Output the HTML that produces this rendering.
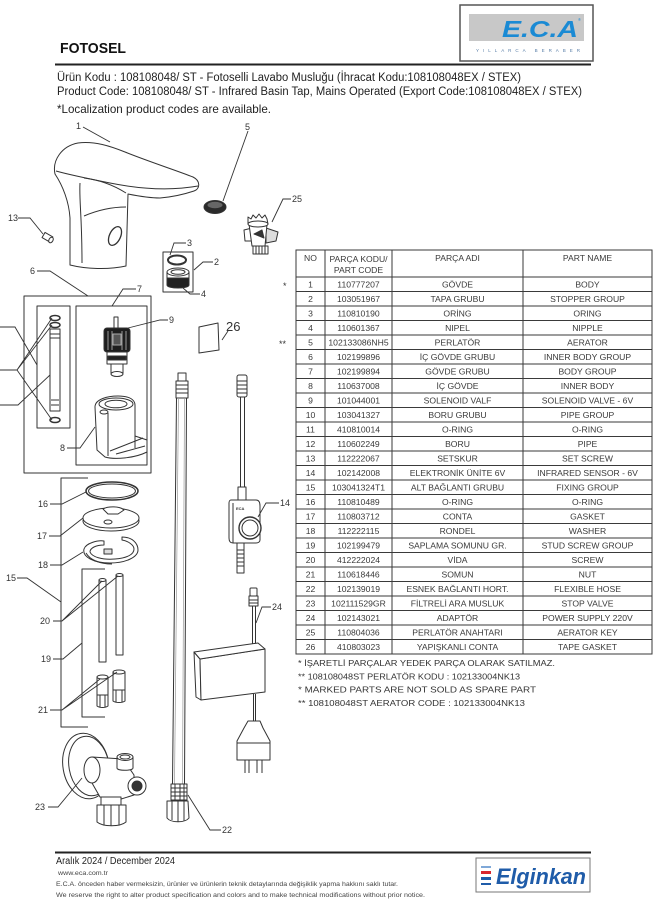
<!DOCTYPE html>
<html><head><meta charset="utf-8"><style>html,body{margin:0;padding:0;background:#fff}svg{display:block}</style></head>
<body>
<svg width="655" height="900" viewBox="0 0 655 900" xmlns="http://www.w3.org/2000/svg" font-family="'Liberation Sans', Arial, sans-serif">
<rect width="655" height="900" fill="#fff"/>

<!-- HEADER -->
<text x="60" y="53" font-size="15" font-weight="bold" fill="#111" textLength="66" lengthAdjust="spacingAndGlyphs">FOTOSEL</text>
<line x1="55" y1="64.5" x2="591" y2="64.5" stroke="#222" stroke-width="2"/>
<text x="57" y="81" font-size="11.5" fill="#222" textLength="464" lengthAdjust="spacingAndGlyphs">Ürün Kodu : 108108048/ ST - Fotoselli Lavabo Musluğu (İhracat Kodu:108108048EX / STEX)</text>
<text x="57" y="95" font-size="11.5" fill="#222" textLength="525" lengthAdjust="spacingAndGlyphs">Product Code: 108108048/ ST - Infrared Basin Tap, Mains Operated (Export Code:108108048EX / STEX)</text>
<text x="57" y="113" font-size="12" fill="#222" textLength="214" lengthAdjust="spacingAndGlyphs">*Localization product codes are available.</text>

<!-- ECA LOGO -->
<rect x="460" y="5" width="133" height="56" fill="#fff" stroke="#555" stroke-width="1.5"/>
<rect x="469" y="14" width="115" height="27" fill="#c8c8c8"/>
<text x="502" y="37" font-size="23" font-weight="bold" font-style="italic" fill="#1a8ad4" textLength="76" lengthAdjust="spacingAndGlyphs">E.C.A</text>
<text x="578" y="21" font-size="4" fill="#1a8ad4">®</text>
<text x="476" y="52" font-size="4.5" fill="#5a7fa8" textLength="104" lengthAdjust="spacing">YILLARCA BERABER</text>

<!-- DRAWING -->
<g stroke="#333" stroke-width="1" fill="#fff" stroke-linejoin="round">
  <!-- faucet body 1 -->
  <path d="M55,174 C52,160 62,146 78,143 C95,141 110,146 125,152 C150,162 178,171 193,177 C201,181 200,189 194,191 C185,194 172,197 160,198 C150,198 138,196 128,194 L126,266 C108,270 86,269 70,265 L70,218 C69,202 63,186 55,174 Z"/>
  <path d="M56,171 C70,175 90,179 110,183 C140,189 170,191 198,186" fill="none"/>
  <path d="M80,183 C79,200 82,215 82,263" fill="none"/>
  <path d="M84,178 C100,180 115,186 126,193" fill="none"/>
  <path d="M84,216 C98,210 112,207 126,207" fill="none"/>
  <ellipse cx="115" cy="236" rx="5.5" ry="10" transform="rotate(25 115 236)" fill="#fff" stroke-width="1.3"/>

  <!-- aerator 5 -->
  <ellipse cx="215" cy="207" rx="11" ry="6.5" fill="#2a2a2a"/>
  <ellipse cx="215" cy="205" rx="7.5" ry="3.2" fill="#666" stroke="none"/>

  <!-- aerator key 25 -->
  <path d="M244,230 L252,228 L252,241 L245,241 Z"/>
  <path d="M266,228 L278,232 L276,241 L266,243 Z" fill="#ddd"/>
  <path d="M249,224 L267,224 L265,246 L252,246 Z"/>
  <path d="M248,224 L248,217 L251,219 L253,215 L256,218 L259,214 L262,218 L265,215 L267,219 L268,224 Z"/>
  <ellipse cx="258" cy="224" rx="10" ry="3"/>
  <path d="M253,246 L268,246 L268,254 L253,254 Z"/>
  <path d="M256,246 V254 M259,246 V254 M262,246 V254 M265,246 V254" fill="none"/>
  <path d="M254,234 L262,230 L264,238 Z" fill="#333"/>

  <!-- part 13 -->
  <rect x="43" y="234" width="9" height="6" transform="rotate(30 47 237)"/>
  <ellipse cx="51" cy="240" rx="2" ry="3" transform="rotate(30 51 240)"/>

  <!-- box 2 with 3,4 -->
  <rect x="163" y="252" width="30" height="40" fill="none"/>
  <ellipse cx="177" cy="260" rx="9" ry="4.5" fill="none" stroke-width="2"/>
  <path d="M167,272 L167,284 C167,288 189,288 189,284 L189,272" fill="#fff"/>
  <path d="M167,278 L189,278 L189,285 C189,289 167,289 167,285 Z" fill="#222"/>
  <ellipse cx="178" cy="272" rx="11" ry="4"/>
  <ellipse cx="178" cy="272" rx="7" ry="2.3" fill="none"/>

  <!-- box 6 / 7 -->
  <rect x="24" y="296" width="127" height="177" fill="none"/>
  <rect x="37" y="306" width="33" height="122" fill="none"/>
  <rect x="76" y="306" width="71" height="159" fill="none"/>

  <!-- pipe 10/11/12 -->
  <ellipse cx="55" cy="318" rx="5" ry="2.5" fill="none" stroke-width="1.5"/>
  <ellipse cx="55" cy="325" rx="5" ry="2.5" fill="none" stroke-width="1.5"/>
  <rect x="50" y="329" width="10" height="82"/>
  <path d="M50,334 H60 M50,338 H60 M51,400 H59 M51,405 H59" fill="none"/>
  <ellipse cx="55" cy="420" rx="5" ry="2.5" fill="none" stroke-width="1.5"/>

  <!-- solenoid 9 -->
  <rect x="114" y="317" width="4" height="11"/>
  <rect x="104" y="328" width="26" height="24" rx="3" fill="#1e1e1e"/>
  <path d="M108,331 V350 M112,331 V350 M122,331 V350 M126,331 V350" stroke="#999" fill="none"/>
  <rect x="113" y="334" width="8" height="11" fill="#555" stroke="#aaa"/>
  <rect x="107" y="352" width="20" height="12"/>
  <rect x="108" y="356" width="18" height="4" fill="#222"/>
  <rect x="111" y="364" width="12" height="9"/>
  <ellipse cx="117" cy="374" rx="6" ry="2.5"/>

  <!-- inner body 8 -->
  <path d="M95,407 C95,399 108,396 118,396 C130,396 135,400 135,405 L135,436 L147,440 L147,452 C135,458 115,460 105,457 L97,450 Z"/>
  <ellipse cx="116" cy="404" rx="17" ry="6"/>
  <ellipse cx="116" cy="404" rx="11" ry="3.8"/>
  <ellipse cx="104" cy="412" rx="4" ry="2"/>
  <path d="M108,413 L108,456 M110,451 L143,438 M116,454 L145,446 M135,436 L135,448" fill="none"/>

  <!-- tape gasket 26 -->
  <path d="M199,327 L218,323 L219,350 L199,353 Z"/>

  <!-- hose 22 -->
  <rect x="178" y="373" width="8" height="8"/>
  <rect x="176" y="381" width="12" height="17"/>
  <path d="M176,385 H188 M176,389 H188 M176,393 H188" fill="none"/>
  <path d="M176.5,398 L172.5,784 M186.5,398 L184.5,784" fill="none"/>
  <path d="M178.5,398 L174.5,784 M184.5,398 L182.5,784" fill="none" stroke="#999" stroke-width="0.7"/>
  <rect x="171" y="784" width="16" height="16"/>
  <path d="M171,788 H187 M171,792 H187 M171,796 H187 M175,784 V800 M180,784 V800 M184,784 V800" fill="none"/>
  <path d="M167,801 L188,801 L189,818 C185,823 171,823 167,818 Z"/>
  <path d="M172,801 V820 M178,801 V822 M184,801 V821" fill="none"/>

  <!-- sensor 14 -->
  <rect x="237" y="375" width="10" height="22" rx="2"/>
  <path d="M237,381 H247 M237,385 H247 M237,389 H247 M237,393 H247" fill="none"/>
  <path d="M240.5,397 V487 M244.5,397 V487" fill="none"/>
  <rect x="238" y="487" width="8" height="13"/>
  <path d="M231,500 L256,500 C259,500 260,503 260,506 L260,540 C260,542 258,543 256,543 L233,543 C230,543 229,541 229,538 L229,503 C229,501 230,500 231,500 Z"/>
  <path d="M233,503 L233,543" fill="none"/>
  <circle cx="250" cy="528" r="11" stroke-width="1.4"/>
  <circle cx="250" cy="528" r="8" fill="none"/>
  <text x="236" y="510" font-size="4" fill="#333" stroke="none" font-weight="bold">ECA</text>
  <rect x="237" y="543" width="7" height="30"/>
  <path d="M237,550 H244 M237,554 H244 M237,558 H244 M237,562 H244 M237,566 H244" fill="none"/>

  <!-- power supply 24 -->
  <rect x="250" y="588" width="7" height="8" rx="1"/>
  <rect x="249" y="596" width="9" height="10"/>
  <path d="M249,600 H258 M249,603 H258" fill="none"/>
  <path d="M252.5,606 V646 M255.5,606 V646" fill="none"/>
  <ellipse cx="254" cy="647" rx="4" ry="2"/>
  <path d="M194,652 L200,659 L201,700 L196,697 Z"/>
  <path d="M200,659 L265,649 L265,692 L201,700 Z"/>
  <path d="M194,652 L258,643 L265,649 L200,659 Z"/>
  <path d="M253.5,694 V722 M255.5,694 V722" fill="none"/>
  <path d="M248,721 L260,721 L263,728 L270,741 L270,760 L237,760 L237,741 L244,728 Z"/>
  <path d="M237,743 H270" fill="none"/>
  <path d="M245,760 V773 M249,760 V773 M257,760 V773 M262,760 V773" fill="none"/>

  <!-- bracket 15 -->
  <path d="M88,478 L61,478 L61,727 L88,727" fill="none"/>
  <!-- o-ring 16 -->
  <ellipse cx="112" cy="491" rx="26" ry="9" fill="none" stroke-width="1.5"/>
  <ellipse cx="112" cy="491" rx="23.5" ry="7" fill="none"/>
  <!-- gasket 17 -->
  <ellipse cx="111" cy="521" rx="28" ry="10"/>
  <ellipse cx="111" cy="518" rx="28" ry="10"/>
  <path d="M103,509 C108,506 120,506 124,510 L118,514 L108,514 Z"/>
  <ellipse cx="108" cy="522" rx="4" ry="2"/>
  <!-- washer 18 -->
  <path d="M84,549 C86,543 98,540 104,541 L104,545 C96,545 90,548 90,552 C92,557 102,560 115,559 C128,558 134,554 134,549 C134,545 128,541 122,540 L122,537 C132,537 138,543 138,550 C138,557 126,563 110,563 C94,563 82,557 84,549 Z"/>
  <path d="M86,553 C90,560 100,564 112,564" fill="none"/>
  <rect x="104" y="549" width="8" height="5" fill="#ddd"/>
  <!-- bracket 19 -->
  <path d="M105,569 L82,569 L82,717 L105,717" fill="none"/>
  <!-- studs 20 -->
  <rect x="99" y="580" width="7" height="82"/>
  <ellipse cx="102.5" cy="580" rx="3.5" ry="1.5"/>
  <rect x="116" y="575" width="7" height="80"/>
  <ellipse cx="119.5" cy="575" rx="3.5" ry="1.5"/>
  <!-- nuts 21 -->
  <rect x="97" y="677" width="11" height="18"/>
  <ellipse cx="102.5" cy="677" rx="5.5" ry="2"/>
  <path d="M97,695 L108,695 L108,706 C105,708 100,708 97,706 Z"/>
  <path d="M100,695 V707 M105,695 V707" fill="none"/>
  <rect x="113" y="672" width="12" height="18"/>
  <ellipse cx="119" cy="672" rx="6" ry="2"/>
  <path d="M113,690 L125,690 L125,701 C122,703 116,703 113,701 Z"/>
  <path d="M116,690 V702 M122,690 V702" fill="none"/>

  <!-- stop valve 23 -->
  <ellipse cx="86" cy="766" rx="23" ry="33" transform="rotate(-10 86 766)"/>
  <ellipse cx="89" cy="766" rx="20" ry="30" transform="rotate(-10 89 766)" fill="none"/>
  <path d="M92,757 L123,759 L134,775 L134,795 L118,800 L100,797 L92,783 Z"/>
  <ellipse cx="92" cy="770" rx="8" ry="13"/>
  <path d="M117,757 L117,768 C117,771 133,771 133,768 L133,757" />
  <ellipse cx="125" cy="757" rx="8" ry="3.5"/>
  <ellipse cx="125" cy="757" rx="5" ry="2" fill="none"/>
  <circle cx="137" cy="786" r="9"/>
  <circle cx="137" cy="786" r="5" fill="#333"/>
  <rect x="101" y="797" width="20" height="8"/>
  <path d="M97,805 L126,805 L126,822 C120,827 103,827 97,822 Z"/>
  <path d="M104,805 V825 M111,805 V826 M119,805 V825" fill="none"/>
</g>

<!-- leaders -->
<g stroke="#333" stroke-width="0.9" fill="none">
  <path d="M83,127 L110,142"/>
  <path d="M248,131 L223,201"/>
  <path d="M291,199 L283,199 L272,222"/>
  <path d="M18,218 L30,218 L43,234"/>
  <path d="M186,243 L174,243 L170,255"/>
  <path d="M213,262 L203,262 L194,270"/>
  <path d="M200,294 L190,294 L183,288"/>
  <path d="M37,271 L50,271 L88,296"/>
  <path d="M136,289 L123,289 L112,306"/>
  <path d="M168,320 L160,320 L128,328"/>
  <path d="M67,448 L80,448 L95,427"/>
  <path d="M0,327 L15,327 L37,365"/>
  <path d="M0,370 L17,370 L52,318 M17,370 L52,325 M17,370 L52,420"/>
  <path d="M0,405 L18,405 L50,375"/>
  <path d="M228,331 L222,340"/>
  <path d="M279,503 L266,503 L258,517"/>
  <path d="M271,607 L262,607 L256,623"/>
  <path d="M17,578 L27,578 L61,602"/>
  <path d="M50,504 L62,504 L86,492"/>
  <path d="M49,536 L60,536 L83,518"/>
  <path d="M50,565 L62,565 L83,552"/>
  <path d="M53,621 L62,621 L102,581 M62,621 L118,576"/>
  <path d="M53,659 L63,659 L82,643"/>
  <path d="M50,710 L62,710 L100,679 M62,710 L117,672"/>
  <path d="M48,807 L58,807 L82,778"/>
  <path d="M221,830 L210,830 L188,795"/>
</g>

<!-- labels -->
<g font-size="9" fill="#333">
  <text x="76" y="129">1</text>
  <text x="245" y="130">5</text>
  <text x="292" y="202">25</text>
  <text x="8" y="221">13</text>
  <text x="187" y="246">3</text>
  <text x="214" y="265">2</text>
  <text x="201" y="297">4</text>
  <text x="30" y="274">6</text>
  <text x="137" y="292">7</text>
  <text x="169" y="323">9</text>
  <text x="60" y="451">8</text>
  <text x="280" y="506">14</text>
  <text x="272" y="610">24</text>
  <text x="6" y="581">15</text>
  <text x="38" y="507">16</text>
  <text x="37" y="539">17</text>
  <text x="38" y="568">18</text>
  <text x="40" y="624">20</text>
  <text x="41" y="662">19</text>
  <text x="38" y="713">21</text>
  <text x="35" y="810">23</text>
  <text x="222" y="833">22</text>
</g>
<text x="226" y="331" font-size="13" fill="#333">26</text>
<text x="283" y="289" font-size="9" fill="#333">*</text>
<text x="279" y="347" font-size="9" fill="#333">**</text>

<!-- TABLE -->
<g stroke="#3a3a3a" stroke-width="1" fill="none">
  <rect x="296" y="250" width="356" height="404"/>
  <path d="M325,250V654 M392,250V654 M523,250V654"/>
  <path d="M296,277H652 M296,291.5H652 M296,306H652 M296,320.5H652 M296,335H652 M296,349.5H652 M296,364H652 M296,378.5H652 M296,393H652 M296,407.5H652 M296,422H652 M296,436.5H652 M296,451H652 M296,465.5H652 M296,480H652 M296,494.5H652 M296,509H652 M296,523.5H652 M296,538H652 M296,552.5H652 M296,567H652 M296,581.5H652 M296,596H652 M296,610.5H652 M296,625H652 M296,639.5H652"/>
</g>
<g font-size="8.6" fill="#3a3a3a" text-anchor="middle">
  <text x="310.5" y="261">NO</text>
  <text x="358.5" y="262">PARÇA KODU/</text>
  <text x="358.5" y="273">PART CODE</text>
  <text x="457.5" y="261">PARÇA ADI</text>
  <text x="587.5" y="261">PART NAME</text>
</g>
<g font-size="8.6" fill="#3a3a3a" text-anchor="middle">
  <g transform="translate(0,287.3)"><text x="310.5">1</text><text x="358.5">110777207</text><text x="457.5">GÖVDE</text><text x="587.5">BODY</text></g>
  <g transform="translate(0,301.8)"><text x="310.5">2</text><text x="358.5">103051967</text><text x="457.5">TAPA GRUBU</text><text x="587.5">STOPPER GROUP</text></g>
  <g transform="translate(0,316.3)"><text x="310.5">3</text><text x="358.5">110810190</text><text x="457.5">ORİNG</text><text x="587.5">ORING</text></g>
  <g transform="translate(0,330.8)"><text x="310.5">4</text><text x="358.5">110601367</text><text x="457.5">NIPEL</text><text x="587.5">NIPPLE</text></g>
  <g transform="translate(0,345.3)"><text x="310.5">5</text><text x="358.5">102133086NH5</text><text x="457.5">PERLATÖR</text><text x="587.5">AERATOR</text></g>
  <g transform="translate(0,359.8)"><text x="310.5">6</text><text x="358.5">102199896</text><text x="457.5">İÇ GÖVDE GRUBU</text><text x="587.5">INNER BODY GROUP</text></g>
  <g transform="translate(0,374.3)"><text x="310.5">7</text><text x="358.5">102199894</text><text x="457.5">GÖVDE GRUBU</text><text x="587.5">BODY GROUP</text></g>
  <g transform="translate(0,388.8)"><text x="310.5">8</text><text x="358.5">110637008</text><text x="457.5">İÇ GÖVDE</text><text x="587.5">INNER BODY</text></g>
  <g transform="translate(0,403.3)"><text x="310.5">9</text><text x="358.5">101044001</text><text x="457.5">SOLENOID VALF</text><text x="587.5">SOLENOID VALVE - 6V</text></g>
  <g transform="translate(0,417.8)"><text x="310.5">10</text><text x="358.5">103041327</text><text x="457.5">BORU GRUBU</text><text x="587.5">PIPE GROUP</text></g>
  <g transform="translate(0,432.3)"><text x="310.5">11</text><text x="358.5">410810014</text><text x="457.5">O-RING</text><text x="587.5">O-RING</text></g>
  <g transform="translate(0,446.8)"><text x="310.5">12</text><text x="358.5">110602249</text><text x="457.5">BORU</text><text x="587.5">PIPE</text></g>
  <g transform="translate(0,461.3)"><text x="310.5">13</text><text x="358.5">112222067</text><text x="457.5">SETSKUR</text><text x="587.5">SET SCREW</text></g>
  <g transform="translate(0,475.8)"><text x="310.5">14</text><text x="358.5">102142008</text><text x="457.5">ELEKTRONİK ÜNİTE 6V</text><text x="587.5">INFRARED SENSOR - 6V</text></g>
  <g transform="translate(0,490.3)"><text x="310.5">15</text><text x="358.5">103041324T1</text><text x="457.5">ALT BAĞLANTI GRUBU</text><text x="587.5">FIXING GROUP</text></g>
  <g transform="translate(0,504.8)"><text x="310.5">16</text><text x="358.5">110810489</text><text x="457.5">O-RING</text><text x="587.5">O-RING</text></g>
  <g transform="translate(0,519.3)"><text x="310.5">17</text><text x="358.5">110803712</text><text x="457.5">CONTA</text><text x="587.5">GASKET</text></g>
  <g transform="translate(0,533.8)"><text x="310.5">18</text><text x="358.5">112222115</text><text x="457.5">RONDEL</text><text x="587.5">WASHER</text></g>
  <g transform="translate(0,548.3)"><text x="310.5">19</text><text x="358.5">102199479</text><text x="457.5">SAPLAMA SOMUNU GR.</text><text x="587.5">STUD SCREW GROUP</text></g>
  <g transform="translate(0,562.8)"><text x="310.5">20</text><text x="358.5">412222024</text><text x="457.5">VİDA</text><text x="587.5">SCREW</text></g>
  <g transform="translate(0,577.3)"><text x="310.5">21</text><text x="358.5">110618446</text><text x="457.5">SOMUN</text><text x="587.5">NUT</text></g>
  <g transform="translate(0,591.8)"><text x="310.5">22</text><text x="358.5">102139019</text><text x="457.5">ESNEK BAĞLANTI HORT.</text><text x="587.5">FLEXIBLE HOSE</text></g>
  <g transform="translate(0,606.3)"><text x="310.5">23</text><text x="358.5">102111529GR</text><text x="457.5">FİLTRELİ ARA MUSLUK</text><text x="587.5">STOP VALVE</text></g>
  <g transform="translate(0,620.8)"><text x="310.5">24</text><text x="358.5">102143021</text><text x="457.5">ADAPTÖR</text><text x="587.5">POWER SUPPLY 220V</text></g>
  <g transform="translate(0,635.3)"><text x="310.5">25</text><text x="358.5">110804036</text><text x="457.5">PERLATÖR ANAHTARI</text><text x="587.5">AERATOR KEY</text></g>
  <g transform="translate(0,649.8)"><text x="310.5">26</text><text x="358.5">410803023</text><text x="457.5">YAPIŞKANLI CONTA</text><text x="587.5">TAPE GASKET</text></g>
</g>

<!-- notes -->
<g font-size="8.5" fill="#333">
  <text x="298" y="666" textLength="257" lengthAdjust="spacingAndGlyphs">* İŞARETLİ PARÇALAR YEDEK PARÇA OLARAK SATILMAZ.</text>
  <text x="298" y="679.5" textLength="222" lengthAdjust="spacingAndGlyphs">** 108108048ST PERLATÖR KODU : 102133004NK13</text>
  <text x="298" y="692.5" textLength="238" lengthAdjust="spacingAndGlyphs">* MARKED PARTS ARE NOT SOLD AS SPARE PART</text>
  <text x="298" y="706" textLength="227" lengthAdjust="spacingAndGlyphs">** 108108048ST AERATOR CODE : 102133004NK13</text>
</g>

<!-- FOOTER -->
<line x1="55" y1="852.5" x2="591" y2="852.5" stroke="#222" stroke-width="2"/>
<text x="56" y="864" font-size="10" fill="#222" textLength="119" lengthAdjust="spacingAndGlyphs">Aralık 2024 / December 2024</text>
<text x="58" y="875" font-size="6" fill="#444" textLength="50" lengthAdjust="spacingAndGlyphs">www.eca.com.tr</text>
<text x="56" y="886" font-size="6.3" fill="#444" textLength="342" lengthAdjust="spacingAndGlyphs">E.C.A. önceden haber vermeksizin, ürünler ve ürünlerin teknik detaylarında değişiklik yapma hakkını saklı tutar.</text>
<text x="56" y="897" font-size="6.3" fill="#444" textLength="369" lengthAdjust="spacingAndGlyphs">We reserve the right to alter product specification and colors and to make technical modifications without prior notice.</text>

<rect x="476" y="858" width="114" height="34" fill="#fff" stroke="#777" stroke-width="1"/>
<rect x="481" y="866" width="10" height="2" fill="#7fa8d8"/>
<rect x="481" y="871" width="10" height="3" fill="#d8262e"/>
<rect x="481" y="877" width="10" height="3" fill="#1f5ca9"/>
<rect x="481" y="883" width="10" height="2" fill="#1f5ca9"/>
<text x="496" y="884" font-size="22" font-weight="bold" font-style="italic" fill="#1f5ca9" textLength="90" lengthAdjust="spacingAndGlyphs">Elginkan</text>
</svg>
</body></html>
